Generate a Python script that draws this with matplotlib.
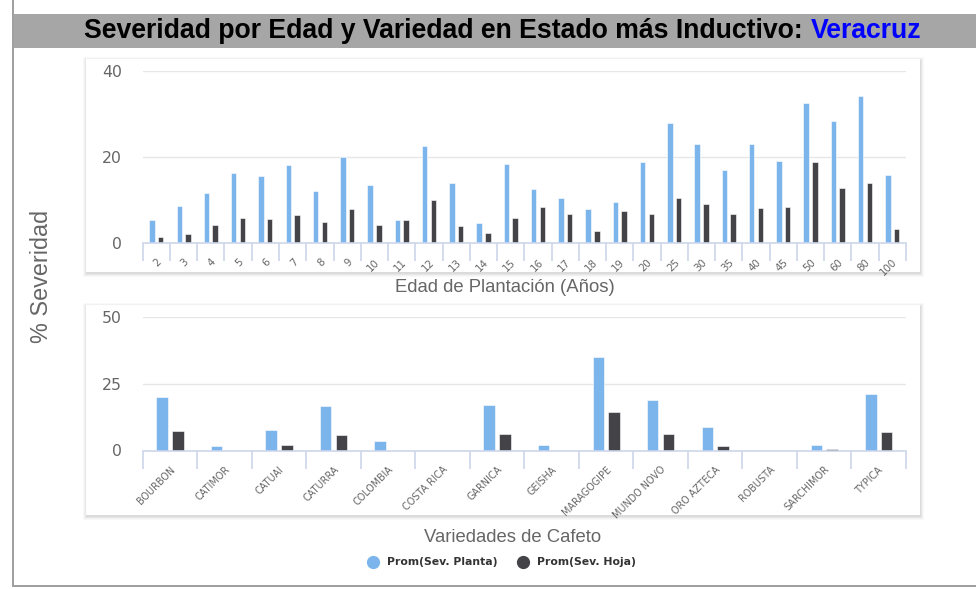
import matplotlib
matplotlib.use("Agg")
import matplotlib.pyplot as plt
from matplotlib.patches import Rectangle
import numpy as np

# ---------------- data ----------------
edades = ["2", "3", "4", "5", "6", "7", "8", "9", "10", "11", "12", "13", "14", "15",
          "16", "17", "18", "19", "20", "25", "30", "35", "40", "45", "50", "60", "80", "100"]
edad_planta = [5.3, 8.7, 11.6, 16.3, 15.6, 18.1, 12.2, 20.0, 13.4, 5.3, 22.6, 14.0, 4.6, 18.4,
               12.5, 10.5, 7.8, 9.6, 18.8, 27.8, 23.1, 16.9, 23.1, 19.1, 32.6, 28.4, 34.1, 15.9]
edad_hoja = [1.5, 2.1, 4.3, 5.9, 5.6, 6.5, 4.9, 7.8, 4.3, 5.3, 10.0, 4.0, 2.4, 5.9,
             8.4, 6.8, 2.7, 7.4, 6.8, 10.5, 9.0, 6.8, 8.1, 8.4, 18.8, 12.8, 14.0, 3.3]

variedades = ["BOURBON", "CATIMOR", "CATUAI", "CATURRA", "COLOMBIA", "COSTA RICA", "GARNICA",
              "GEISHA", "MARAGOGIPE", "MUNDO NOVO", "ORO AZTECA", "ROBUSTA", "SARCHIMOR", "TYPICA"]
var_planta = [20.1, 1.7, 7.8, 16.5, 3.7, 0.0, 17.1, 2.2, 35.0, 19.1, 8.8, 0.0, 2.2, 21.2]
var_hoja = [7.3, 0.0, 2.2, 5.8, 0.0, 0.0, 6.3, 0.0, 14.5, 6.3, 1.7, 0.0, 0.6, 6.8]

series_names = ["Prom(Sev. Planta)", "Prom(Sev. Hoja)"]
top_yticks = [0, 20, 40]
bot_yticks = [0, 25, 50]

# ---------------- style ----------------
C_BLUE = "#7cb5ec"
C_DARK = "#434348"
AXIS_C = "#ccd6eb"
GRID_C = "#e6e6e6"
LABEL_C = "#666666"

W, H = 976, 589
fig = plt.figure(figsize=(W / 100, H / 100), dpi=100)
fig.patch.set_facecolor("white")


def px_rect(x0, y0, x1, y1):
    """pixel box (top-left origin) -> figure fraction [l, b, w, h]"""
    return [x0 / W, 1 - y1 / H, (x1 - x0) / W, (y1 - y0) / H]


# frame lines
fig.add_artist(Rectangle((12 / W, 1 - 587 / H), 2 / W, 587 / H, transform=fig.transFigure,
                         facecolor="#a0a0a0", edgecolor="none", zorder=1))
fig.add_artist(Rectangle((12 / W, 1 - 587 / H), (W - 12) / W, 2 / H, transform=fig.transFigure,
                         facecolor="#a0a0a0", edgecolor="none", zorder=1))
# title bar
fig.add_artist(Rectangle((14 / W, 1 - 48 / H), (W - 14) / W, 34 / H, transform=fig.transFigure,
                         facecolor="#a6a6a6", edgecolor="none", zorder=1))

# title text (two colours)
title_main = "Severidad por Edad y Variedad en Estado más Inductivo: "
title_state = "Veracruz"
fs_title = 19.2
t1 = fig.text(0, 1 - 31.5 / H, title_main, fontsize=fs_title, fontweight="bold",
              family="Liberation Sans", color="black", va="center", ha="left", zorder=3)
t2 = fig.text(0, 1 - 31.5 / H, title_state, fontsize=fs_title, fontweight="bold",
              family="Liberation Sans", color="#0000ff", va="center", ha="left", zorder=3)
fig.canvas.draw()
r = fig.canvas.get_renderer()
w1 = t1.get_window_extent(r).width
w2 = t2.get_window_extent(r).width
x_end = 921.0
x_start = x_end - (w1 + w2)
t1.set_x(x_start / W)
t2.set_x((x_start + w1) / W)


# cards with soft shadow
def card(x0, y0, x1, y1):
    for d, a in [(4, 0.025), (3, 0.03), (2, 0.04), (1, 0.05)]:
        fig.add_artist(Rectangle(((x0 - d + 1) / W, 1 - (y1 + d + 1) / H),
                                 (x1 - x0 + 2 * d - 1) / W, (y1 - y0 + 2 * d - 1) / H,
                                 transform=fig.transFigure, facecolor="black", alpha=a,
                                 edgecolor="none", zorder=1))
    fig.add_artist(Rectangle((x0 / W, 1 - y1 / H), (x1 - x0) / W, (y1 - y0) / H,
                             transform=fig.transFigure, facecolor="white",
                             edgecolor="none", zorder=1.5))


card(86, 59, 920, 272)
card(86, 305, 920, 515)


def bar_panel(rect, cats, s1, s2, yticks, width, offset, label_fs):
    ax = fig.add_axes(rect)
    ax.set_facecolor("none")
    ax.set_zorder(2)
    x = np.arange(len(cats))
    ax.bar(x - offset, s1, width, color=C_BLUE, edgecolor="white", linewidth=0.4, zorder=3)
    ax.bar(x + offset, s2, width, color=C_DARK, edgecolor="white", linewidth=0.4, zorder=3)
    ax.set_xlim(-0.5, len(cats) - 0.5)
    ax.set_ylim(yticks[0], yticks[-1])
    ax.set_yticks(yticks)
    ax.set_yticklabels([str(t) for t in yticks], fontsize=11.3, color=LABEL_C,
                       family="DejaVu Sans")
    ax.tick_params(axis="y", length=0, pad=15)
    for t in yticks[1:]:
        ax.axhline(t, color=GRID_C, linewidth=1, zorder=1)
    for s in ["top", "right", "left"]:
        ax.spines[s].set_visible(False)
    ax.spines["bottom"].set_color(AXIS_C)
    ax.spines["bottom"].set_linewidth(1.2)
    ax.spines["bottom"].set_zorder(4)
    # category boundary ticks
    ax.set_xticks(np.arange(len(cats) + 1) - 0.5, minor=False)
    ax.set_xticklabels([])
    ax.tick_params(axis="x", which="major", length=13, width=1.2, color=AXIS_C, direction="out")
    ax.set_xticks(x, minor=True)
    ax.set_xticklabels(cats, minor=True, rotation=45, ha="right", rotation_mode="anchor",
                       fontsize=label_fs, color=LABEL_C, family="DejaVu Sans")
    ax.tick_params(axis="x", which="minor", length=0, pad=10)
    return ax


ax1 = bar_panel(px_rect(142.7, 71, 906, 243), edades, edad_planta, edad_hoja,
                top_yticks, 0.2, 0.16, 7.4)
ax2 = bar_panel(px_rect(142.7, 317, 906, 450.5), variedades, var_planta, var_hoja,
                bot_yticks, 0.21, 0.145, 6.9)

# axis titles
fig.text(504.5 / W, 1 - 288 / H, "Edad de Plantación (Años)", fontsize=13.3,
         family="Liberation Sans", color=LABEL_C, ha="center", va="center")
fig.text(513 / W, 1 - 537 / H, "Variedades de Cafeto", fontsize=13.3,
         family="Liberation Sans", color=LABEL_C, ha="center", va="center")
fig.text(42 / W, 1 - 276 / H, "% Severidad", fontsize=16.8, rotation=90,
         family="Liberation Sans", color=LABEL_C, ha="center", va="center")

# legend
leg_y = 1 - 562 / H
for cx, color, name in [(373, C_BLUE, series_names[0]), (523, C_DARK, series_names[1])]:
    fig.add_artist(plt.Line2D([cx / W], [leg_y], marker="o", markersize=8.5, color=color,
                              linestyle="none", transform=fig.transFigure))
    fig.text((cx + 14) / W, leg_y, name, fontsize=7.8, fontweight="bold",
             family="DejaVu Sans", color="#333333", ha="left", va="center")

fig.savefig("out.png", dpi=100, facecolor="white")
